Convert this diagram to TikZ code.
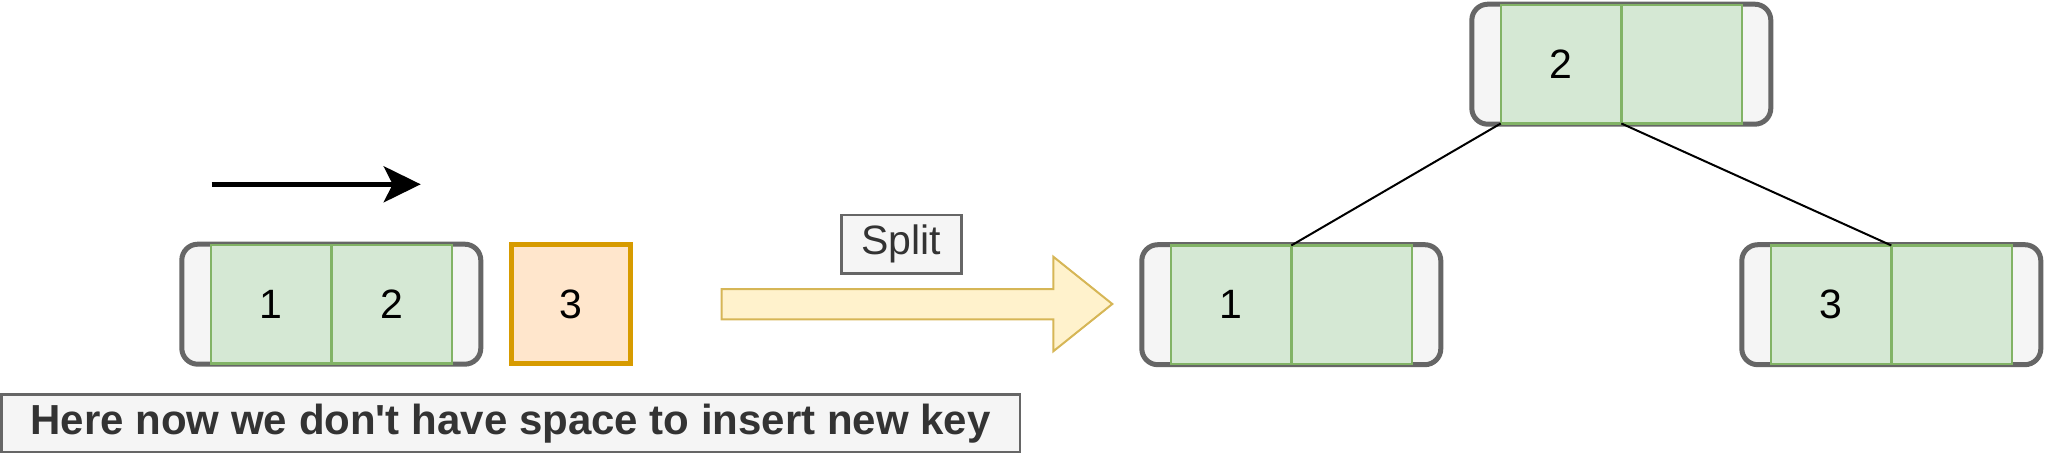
\documentclass[tikz,border=0pt]{standalone}
\usepackage{fontspec}
\setmainfont{Liberation Sans}
\usetikzlibrary{arrows.meta}
\definecolor{grayline}{HTML}{666666}
\definecolor{lightfill}{HTML}{F5F5F5}
\definecolor{greenline}{HTML}{82B366}
\definecolor{greenfill}{HTML}{D5E8D4}
\definecolor{orangeline}{HTML}{D79B00}
\definecolor{orangefill}{HTML}{FFE6CC}
\definecolor{yellowline}{HTML}{D6B656}
\definecolor{yellowfill}{HTML}{FFF2CC}
\definecolor{darktext}{HTML}{333333}
\newcommand{\myNumFont}{\fontsize{41}{49}\selectfont}
\newcommand{\myNoteFont}{\fontsize{42}{50}\selectfont\bfseries}
\tikzset{
  outerbox/.style={draw=grayline, fill=lightfill, line width=5pt, rounded corners=16pt,
    minimum width=299pt, minimum height=120pt, inner sep=0pt, outer sep=0pt},
  cellbox/.style={draw=greenline, fill=greenfill, line width=2.5pt,
    minimum width=120.5pt, minimum height=118.5pt, inner sep=0pt, outer sep=0pt,
    font=\myNumFont, text=black},
  keybox/.style={draw=orangeline, fill=orangefill, line width=5pt,
    minimum width=119pt, minimum height=119pt, inner sep=0pt, outer sep=0pt,
    font=\myNumFont, text=black},
  splitbox/.style={draw=grayline, fill=lightfill, line width=2.5pt,
    minimum width=119.6pt, minimum height=58.7pt, inner sep=0pt, outer sep=0pt,
    font=\myNumFont, text=darktext},
  notebox/.style={draw=grayline, fill=lightfill, line width=2.5pt,
    minimum width=1018.5pt, minimum height=57.5pt, inner sep=0pt, outer sep=0pt,
    font=\myNoteFont, text=darktext},
  treeedge/.style={draw=black, line width=2pt},
  bigarrow/.style={draw=yellowline, fill=yellowfill, line width=2pt, line join=miter},
  movearrow/.style={draw=black, line width=4.5pt, -{Stealth[length=37pt, width=36pt, inset=9pt]}}
}
\begin{document}
\begin{tikzpicture}[x=1pt,y=-1pt]
\useasboundingbox (0,0) rectangle (2046,456);

% left full node
\node[outerbox] (Lo) at (331.3,304.2) {};
\node[cellbox] (L1) at (271.05,304.2) {1};
\node[cellbox] (L2) at (391.55,304.2) {2};
\node[keybox] (K3) at (571.3,304.2) {3};

% move arrow
\coordinate (ArrS) at (211.7,184.3);
\coordinate (ArrE) at (420.7,184.3);
\draw[movearrow] (ArrS) -- (ArrE);

% note
\node[notebox] (note) at (510.6,423.3) {Here now we don\textquotesingle t have space to insert new key};

% split arrow
\filldraw[bigarrow] (721.7,289) -- (1053.3,289) -- (1053.3,256.7) -- (1112.3,304)
  -- (1053.3,351.3) -- (1053.3,319.3) -- (721.7,319.3) -- cycle;
\node[splitbox] (split) at (901.5,244.3) {Split};

% top node
\node[outerbox] (To) at (1621.3,64.2) {};
\node[cellbox] (T1) at (1561.05,64.2) {2};
\node[cellbox] (T2) at (1681.55,64.2) {};

% middle node
\node[outerbox] (Mo) at (1291.3,304.7) {};
\node[cellbox] (M1) at (1231.05,304.7) {1};
\node[cellbox] (M2) at (1351.55,304.7) {};

% right node
\node[outerbox] (Ro) at (1891.3,304.7) {};
\node[cellbox] (R1) at (1831.05,304.7) {3};
\node[cellbox] (R2) at (1951.55,304.7) {};

% edges
\draw[treeedge] (T1.south west) -- (M1.north east);
\draw[treeedge] (T1.south east) -- (R1.north east);
\end{tikzpicture}
\end{document}
